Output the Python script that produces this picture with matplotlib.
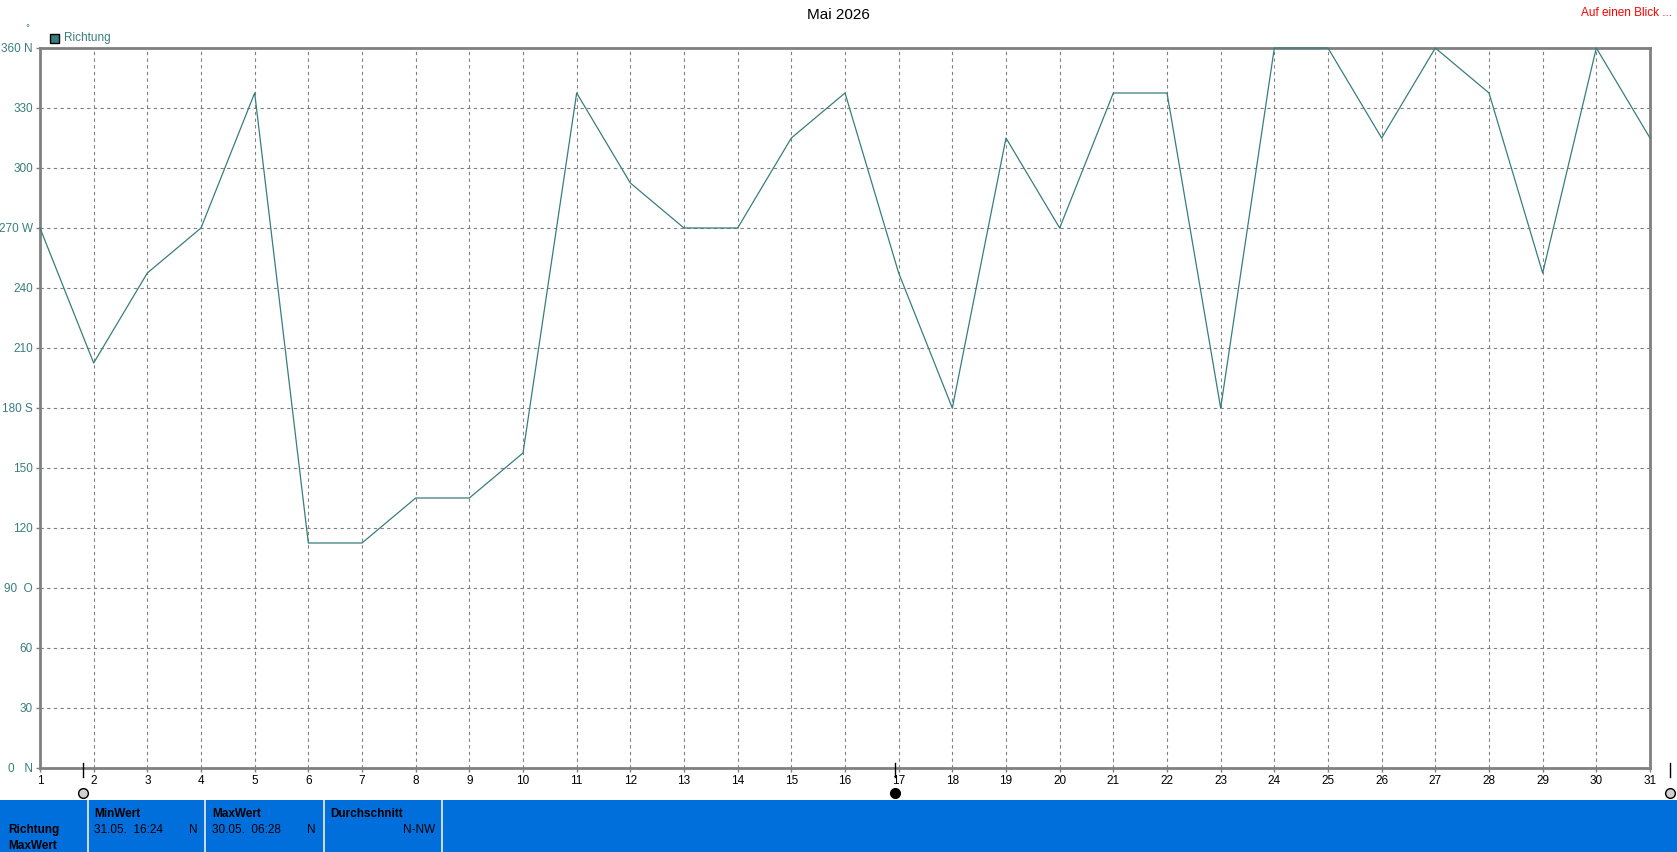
import matplotlib.pyplot as plt
from matplotlib.patches import Rectangle

# Tageswerte Windrichtung (Grad), Mai 2026
days = list(range(1, 32))
richtung = [270, 202.5, 247.5, 270, 337.5, 112.5, 112.5, 135, 135, 157.5,
            337.5, 292.5, 270, 270, 315, 337.5, 247.5, 180, 315, 270,
            337.5, 337.5, 180, 360, 360, 315, 360, 337.5, 247.5, 360, 315]

y_ticks = [0, 30, 60, 90, 120, 150, 180, 210, 240, 270, 300, 330, 360]
y_labels = ["0   N", "30", "60", "90  O", "120", "150", "180 S", "210", "240",
            "270 W", "300", "330", "360 N"]

panel_heads = ["MinWert", "MaxWert", "Durchschnitt"]
panel_times = ["31.05.  16:24", "30.05.  06:28", ""]
panel_vals = ["N", "N", "N-NW"]

teal = "#3a7d7d"
blue = "#006fdc"
W, H = 1677, 852

fig = plt.figure(figsize=(W / 100, H / 100), dpi=100)
ax = fig.add_axes([40 / W, 1 - 768 / H, 1610 / W, 720 / H])

ax.plot(days, richtung, color=teal, lw=0.9, clip_on=False, zorder=3)
ax.set_xlim(1, 31)
ax.set_ylim(0, 360)
ax.set_xticks(days)
ax.set_xticklabels([str(d) for d in days], fontsize=8.5, family="Liberation Sans")
ax.set_yticks(y_ticks)
ax.set_yticklabels(y_labels, fontsize=8.5, color=teal, family="Liberation Sans")
ax.tick_params(axis="both", length=3, width=1, color="#808080", pad=2)
ax.grid(True, color="#808080", linestyle=(0, (3, 3)), lw=0.8)
for s in ax.spines.values():
    s.set_color("#808080")
    s.set_linewidth(2)

fig.text(0.5, 1 - 15 / H, "Mai 2026", ha="center", va="center", fontsize=11,
         family="Liberation Sans")
fig.text(1672 / W, 1 - 13 / H, "Auf einen Blick ...", ha="right", va="center",
         fontsize=8.5, color="red", family="Liberation Sans")
fig.text(27 / W, 1 - 29 / H, "°", ha="center", va="center", fontsize=6, color=teal)

# Legende
fig.patches.append(Rectangle((50 / W, 1 - 43 / H), 9 / W, 9 / H, transform=fig.transFigure,
                             facecolor=teal, edgecolor="black", lw=1))
fig.text(64 / W, 1 - 38 / H, "Richtung", ha="left", va="center", fontsize=8.5,
         color=teal, family="Liberation Sans")

# Cursor-Markierungen
for xm, filled in [(83, False), (895, True), (1670, False)]:
    fig.add_artist(plt.Line2D([xm / W, xm / W], [1 - 763 / H, 1 - 777 / H],
                              transform=fig.transFigure, color="black", lw=1))
    fig.add_artist(plt.Line2D([xm / W], [1 - 793 / H], transform=fig.transFigure,
                              marker="o", markersize=7,
                              markerfacecolor="black" if filled else "#d0d0d0",
                              markeredgecolor="black", markeredgewidth=1, linestyle="none"))

# Info-Leiste unten
fig.patches.append(Rectangle((0, 0), 1, 52 / H, transform=fig.transFigure,
                             facecolor=blue, edgecolor="none"))
for xs in [87, 204, 323, 441]:
    fig.patches.append(Rectangle((xs / W, 0), 2 / W, 52 / H, transform=fig.transFigure,
                                 facecolor="#c8d8e8", edgecolor="none"))
fig.text(8 / W, 1 - 830 / H, "Richtung", fontsize=8.5, fontweight="bold",
         va="center", family="Liberation Sans")
fig.text(8 / W, 1 - 846 / H, "MaxWert", fontsize=8.5, fontweight="bold",
         va="center", family="Liberation Sans")
cells = [(94, 198), (212, 316), (330, 435)]
for (x0, x1), head, t, v in zip(cells, panel_heads, panel_times, panel_vals):
    fig.text(x0 / W, 1 - 814 / H, head, fontsize=8.5, fontweight="bold", va="center",
             family="Liberation Sans")
    if t:
        fig.text(x0 / W, 1 - 830 / H, t, fontsize=8.5, va="center", family="Liberation Sans")
    fig.text(x1 / W, 1 - 830 / H, v, fontsize=8.5, va="center", ha="right",
             family="Liberation Sans")

fig.savefig("out.png", dpi=100)
